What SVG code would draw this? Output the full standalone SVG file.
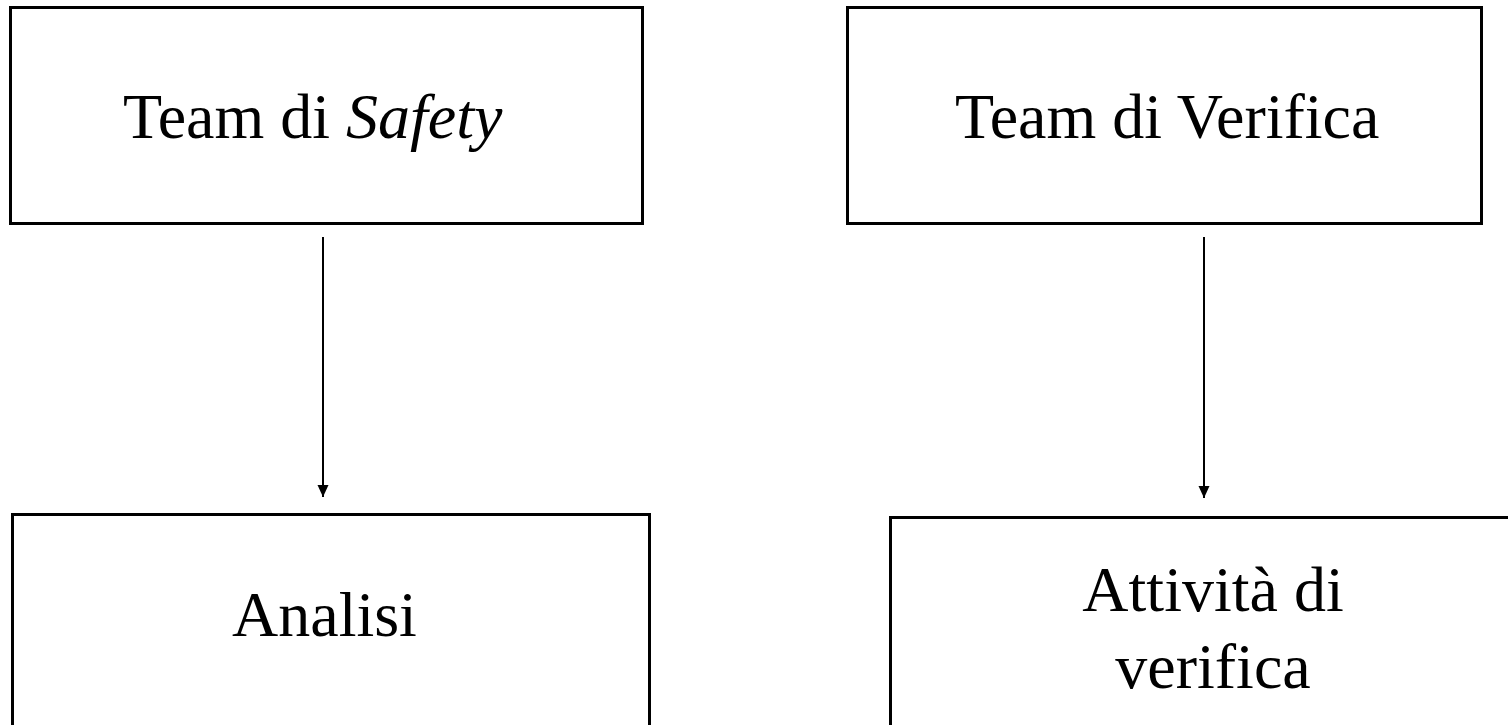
<svg xmlns="http://www.w3.org/2000/svg" width="1508" height="725" viewBox="0 0 1508 725">
  <style>
    .box { fill: #ffffff; stroke: #000000; stroke-width: 3; }
    .lbl { font-family: "Liberation Serif", "Times New Roman", serif; font-size: 64px; fill: #000000; }
    .conn { stroke: #000000; stroke-width: 2; fill: none; }
  </style>
  <defs>
    <marker id="arrow" viewBox="0 0 12 12" refX="12" refY="6" markerWidth="12" markerHeight="12" markerUnits="userSpaceOnUse" orient="auto">
      <path d="M0,0.5 L12,6 L0,11.5 Z" fill="#000000"/>
    </marker>
  </defs>
  <rect width="1508" height="725" fill="#ffffff"/>

  <g id="team-safety">
    <rect class="box" x="10.5" y="7.5" width="632" height="216"/>
    <text class="lbl" x="123" y="138">Team di <tspan font-style="italic">Safety</tspan></text>
  </g>

  <g id="team-verifica">
    <rect class="box" x="847.5" y="7.5" width="634" height="216"/>
    <text class="lbl" x="955" y="138">Team di Verifica</text>
  </g>

  <g id="analisi">
    <rect class="box" x="12.5" y="514.5" width="637" height="230"/>
    <text class="lbl" x="232" y="636">Analisi</text>
  </g>

  <g id="attivita-verifica">
    <rect class="box" x="890.5" y="517.5" width="640" height="230"/>
    <text class="lbl" text-anchor="middle" x="1213" y="611">Attività di</text>
    <text class="lbl" text-anchor="middle" x="1213" y="688">verifica</text>
  </g>

  <g id="connectors">
    <line class="conn" x1="323" y1="237" x2="323" y2="497" marker-end="url(#arrow)"/>
    <line class="conn" x1="1204" y1="237" x2="1204" y2="498" marker-end="url(#arrow)"/>
  </g>
</svg>
